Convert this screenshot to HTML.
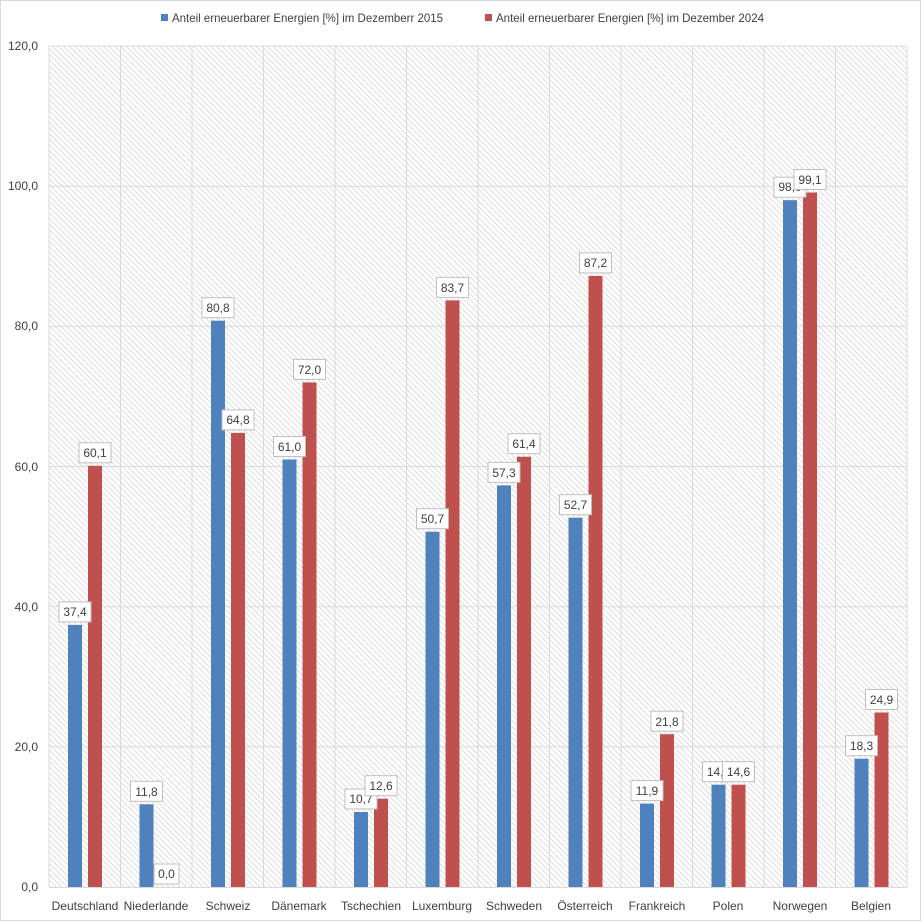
<!DOCTYPE html>
<html><head><meta charset="utf-8"><style>
html,body{margin:0;padding:0;background:#fff}
svg{display:block;font-family:"Liberation Sans","DejaVu Sans",sans-serif}
</style></head><body>
<svg width="921" height="921" viewBox="0 0 921 921" xmlns="http://www.w3.org/2000/svg">
<defs>
<pattern id="h" patternUnits="userSpaceOnUse" width="4" height="4" patternTransform="rotate(-45)">
<rect width="4" height="4" fill="#fff"/><line x1="0" y1="0" x2="0" y2="4" stroke="#cfcfcf" stroke-width="1.4"/>
</pattern>
</defs>
<rect x="0.5" y="0.5" width="920" height="920" fill="#fff" stroke="#d9d9d9"/>
<rect x="49" y="46" width="858" height="841" fill="url(#h)"/>
<g stroke="#d9d9d9" stroke-width="1">
<line x1="49" y1="46" x2="907" y2="46"/><line x1="49" y1="186.2" x2="907" y2="186.2"/><line x1="49" y1="326.3" x2="907" y2="326.3"/><line x1="49" y1="466.5" x2="907" y2="466.5"/><line x1="49" y1="606.7" x2="907" y2="606.7"/><line x1="49" y1="746.8" x2="907" y2="746.8"/>
<line x1="49" y1="46" x2="49" y2="887"/><line x1="120.5" y1="46" x2="120.5" y2="887"/><line x1="192" y1="46" x2="192" y2="887"/><line x1="263.5" y1="46" x2="263.5" y2="887"/><line x1="335" y1="46" x2="335" y2="887"/><line x1="406.5" y1="46" x2="406.5" y2="887"/><line x1="478" y1="46" x2="478" y2="887"/><line x1="549.5" y1="46" x2="549.5" y2="887"/><line x1="621" y1="46" x2="621" y2="887"/><line x1="692.5" y1="46" x2="692.5" y2="887"/><line x1="764" y1="46" x2="764" y2="887"/><line x1="835.5" y1="46" x2="835.5" y2="887"/><line x1="907" y1="46" x2="907" y2="887"/>
<line x1="49" y1="887.5" x2="907" y2="887.5"/>
</g>
<g font-size="12" fill="#404040" text-anchor="end">
<text x="38" y="50">120,0</text><text x="38" y="190">100,0</text><text x="38" y="330">80,0</text><text x="38" y="471">60,0</text><text x="38" y="611">40,0</text><text x="38" y="751">20,0</text><text x="38" y="891">0,0</text>
</g>
<g fill="#4f81bd">
<rect x="68" y="624.9" width="14" height="262.1"/><rect x="139.5" y="804.3" width="14" height="82.7"/><rect x="211" y="320.7" width="14" height="566.3"/><rect x="282.5" y="459.5" width="14" height="427.5"/><rect x="354" y="812" width="14" height="75"/><rect x="425.5" y="531.7" width="14" height="355.3"/><rect x="497" y="485.4" width="14" height="401.6"/><rect x="568.5" y="517.7" width="14" height="369.3"/><rect x="640" y="803.6" width="14" height="83.4"/><rect x="711.5" y="784.7" width="14" height="102.3"/><rect x="783" y="200.2" width="14" height="686.8"/><rect x="854.5" y="758.7" width="14" height="128.3"/>
</g>
<g fill="#c0504d">
<rect x="88" y="465.8" width="14" height="421.2"/><rect x="231" y="432.9" width="14" height="454.1"/><rect x="302.5" y="382.4" width="14" height="504.6"/><rect x="374" y="798.7" width="14" height="88.3"/><rect x="445.5" y="300.4" width="14" height="586.6"/><rect x="517" y="456.7" width="14" height="430.3"/><rect x="588.5" y="275.9" width="14" height="611.1"/><rect x="660" y="734.2" width="14" height="152.8"/><rect x="731.5" y="784.7" width="14" height="102.3"/><rect x="803" y="192.5" width="14" height="694.5"/><rect x="874.5" y="712.5" width="14" height="174.5"/>
</g>
<g font-size="12" fill="#404040" text-anchor="middle">
<g fill="#fff" stroke="#bfbfbf">
<rect x="59" y="601.9" width="32" height="20"/><rect x="130.5" y="781.3" width="32" height="20"/><rect x="202" y="297.7" width="32" height="20"/><rect x="273.5" y="436.5" width="32" height="20"/><rect x="345" y="789" width="32" height="20"/><rect x="416.5" y="508.7" width="32" height="20"/><rect x="488" y="462.4" width="32" height="20"/><rect x="559.5" y="494.7" width="32" height="20"/><rect x="631" y="780.6" width="32" height="20"/><rect x="702.5" y="761.7" width="32" height="20"/><rect x="774" y="177.2" width="32" height="20"/><rect x="845.5" y="735.7" width="32" height="20"/>
</g>
<text x="75" y="616">37,4</text><text x="146.5" y="796">11,8</text><text x="218" y="312">80,8</text><text x="289.5" y="451">61,0</text><text x="361" y="803">10,7</text><text x="432.5" y="523">50,7</text><text x="504" y="477">57,3</text><text x="575.5" y="509">52,7</text><text x="647" y="795">11,9</text><text x="718.5" y="776">14,6</text><text x="790" y="191">98,0</text><text x="861.5" y="750">18,3</text>
<g fill="#fff" stroke="#bfbfbf">
<rect x="79" y="442.8" width="32" height="20"/><rect x="154" y="864" width="25" height="20"/><rect x="222" y="409.9" width="32" height="20"/><rect x="293.5" y="359.4" width="32" height="20"/><rect x="365" y="775.7" width="32" height="20"/><rect x="436.5" y="277.4" width="32" height="20"/><rect x="508" y="433.7" width="32" height="20"/><rect x="579.5" y="252.9" width="32" height="20"/><rect x="651" y="711.2" width="32" height="20"/><rect x="722.5" y="761.7" width="32" height="20"/><rect x="794" y="169.5" width="32" height="20"/><rect x="865.5" y="689.5" width="32" height="20"/>
</g>
<text x="95" y="457">60,1</text><text x="166.5" y="878">0,0</text><text x="238" y="424">64,8</text><text x="309.5" y="374">72,0</text><text x="381" y="790">12,6</text><text x="452.5" y="292">83,7</text><text x="524" y="448">61,4</text><text x="595.5" y="267">87,2</text><text x="667" y="726">21,8</text><text x="738.5" y="776">14,6</text><text x="810" y="184">99,1</text><text x="881.5" y="704">24,9</text>
</g>
<g font-size="12" fill="#404040" text-anchor="middle">
<text x="85" y="910">Deutschland</text><text x="156" y="910">Niederlande</text><text x="228" y="910">Schweiz</text><text x="299" y="910">Dänemark</text><text x="371" y="910">Tschechien</text><text x="442" y="910">Luxemburg</text><text x="514" y="910">Schweden</text><text x="585" y="910">Österreich</text><text x="657" y="910">Frankreich</text><text x="728" y="910">Polen</text><text x="800" y="910">Norwegen</text><text x="871" y="910">Belgien</text>
</g>
<rect x="161" y="14" width="7" height="7" fill="#4f81bd"/>
<text x="172" y="22" font-size="12" fill="#404040" textLength="271" lengthAdjust="spacingAndGlyphs">Anteil erneuerbarer Energien [%] im Dezemberr 2015</text>
<rect x="485" y="14" width="7" height="7" fill="#c0504d"/>
<text x="496" y="22" font-size="12" fill="#404040" textLength="268" lengthAdjust="spacingAndGlyphs">Anteil erneuerbarer Energien [%] im Dezember 2024</text>
</svg>
</body></html>
